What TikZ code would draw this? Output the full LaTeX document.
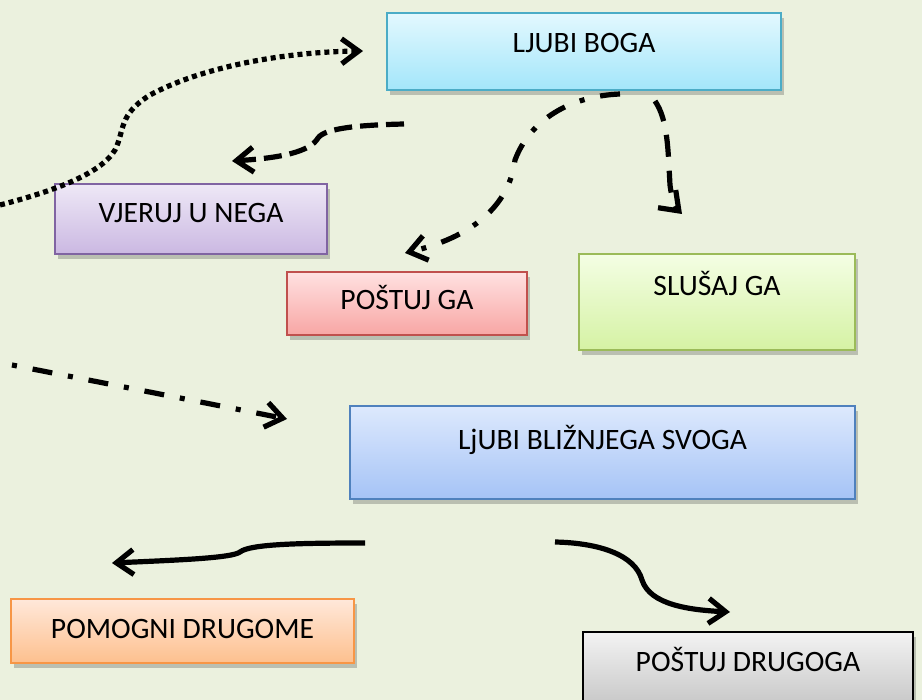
\documentclass[tikz,border=0pt]{standalone}
\usepackage{fontspec}
\setmainfont{Carlito}
\usetikzlibrary{arrows.meta,shadows}
\definecolor{bgc}{HTML}{EBF1DE}
\definecolor{bogT}{HTML}{E3F8FE}\definecolor{bogB}{HTML}{A3E6FA}\definecolor{bogD}{HTML}{4BACC6}
\definecolor{vjeT}{HTML}{EEE8F6}\definecolor{vjeB}{HTML}{CBB8E2}\definecolor{vjeD}{HTML}{8064A2}
\definecolor{posT}{HTML}{FFE1E1}\definecolor{posB}{HTML}{F8A6A4}\definecolor{posD}{HTML}{C0504D}
\definecolor{sluT}{HTML}{F4FEE4}\definecolor{sluB}{HTML}{D5F2A4}\definecolor{sluD}{HTML}{9BBB59}
\definecolor{bliT}{HTML}{DDE9FD}\definecolor{bliB}{HTML}{A5C3F6}\definecolor{bliD}{HTML}{4F81BD}
\definecolor{pomT}{HTML}{FFE8DA}\definecolor{pomB}{HTML}{FDC08E}\definecolor{pomD}{HTML}{F79646}
\definecolor{druT}{HTML}{F3F3F3}\definecolor{druB}{HTML}{BEBEBE}
\begin{document}
\begin{tikzpicture}[x=0.5pt,y=-0.5pt,
  box/.style={rectangle, anchor=north west, inner sep=0pt, line width=1pt,
    font=\fontsize{14.8pt}{17pt}\selectfont,
    drop shadow={shadow xshift=1.5pt, shadow yshift=-2.5pt, opacity=0.3, fill=black!70}},
  conn/.style={line width=2.6pt, -{Straight Barb[length=8.5pt,width=12.5pt]}},
  dotline/.style={dash pattern=on 2.5pt off 2pt},
  dashline/.style={dash pattern=on 9pt off 4pt},
  dashdot/.style={dash pattern=on 10pt off 8pt on 2.5pt off 8pt},
  longdash/.style={dash pattern=on 11pt off 7pt}
]
\useasboundingbox (0,0) rectangle (922,700);
\clip (0,0) rectangle (922,700);
\fill[bgc] (0,0) rectangle (922,700);

\node[box, top color=bogT, bottom color=bogB, draw=bogD,
  minimum width=197pt, minimum height=38.5pt, text height=5.75pt, text depth=4.25pt]
  (bog) at (386,12) {LJUBI BOGA};
\node[box, top color=vjeT, bottom color=vjeB, draw=vjeD,
  minimum width=136pt, minimum height=35pt, text height=7pt, text depth=3pt]
  (vje) at (54,183) {VJERUJ U NEGA};
\node[box, top color=posT, bottom color=posB, draw=posD,
  minimum width=120pt, minimum height=31.5pt, text height=8.25pt, text depth=1.75pt]
  (pos) at (286,271) {POŠTUJ GA};
\node[box, top color=sluT, bottom color=sluB, draw=sluD,
  minimum width=138pt, minimum height=48pt, text height=2pt, text depth=8pt]
  (slu) at (578,253) {SLUŠAJ GA};
\node[box, top color=bliT, bottom color=bliB, draw=bliD,
  minimum width=252.5pt, minimum height=46.5pt, text height=3.75pt, text depth=6.25pt]
  (bli) at (349,405) {LjUBI BLIŽNJEGA SVOGA};
\node[box, top color=pomT, bottom color=pomB, draw=pomD,
  minimum width=171.5pt, minimum height=32pt, text height=8.5pt, text depth=1.5pt]
  (pom) at (10,598) {POMOGNI DRUGOME};
\node[box, top color=druT, bottom color=druB, draw=black,
  minimum width=165pt, minimum height=44.5pt, text height=2.25pt, text depth=7.75pt]
  (dru) at (582,631) {POŠTUJ DRUGOGA};

% free ends of connectors
\coordinate (a1s) at (0,205);
\coordinate (a1e) at (363,51);
\coordinate (a2s) at (404,124);
\coordinate (a2e) at (232,161);
\coordinate (a3s) at (620,94);
\coordinate (a3e) at (405,253);
\coordinate (a4s) at (655,101);
\coordinate (a4e) at (682,214);
\coordinate (a5s) at (12,365);
\coordinate (a5e) at (287,419);
\coordinate (a6s) at (365,543);
\coordinate (a6e) at (112,563);
\coordinate (a7s) at (555,542);
\coordinate (a7e) at (730,612);

\draw[conn, dotline] (a1s) .. controls (50,192) and (100,175) .. (115,150)
  .. controls (125,130) and (118,115) .. (150,95)
  .. controls (200,68) and (280,52) .. (a1e);
\draw[conn, dashline] (a2s) .. controls (360,125) and (325,128) .. (318,138)
  .. controls (310,152) and (280,158) .. (a2e);
\draw[conn, dashdot] (a3s) .. controls (570,96) and (530,120) .. (515,160)
  .. controls (510,200) and (480,235) .. (a3e);
\draw[conn, longdash] (a4s) .. controls (668,120) and (668,150) .. (670,185)
  .. controls (672,200) and (675,207) .. (a4e);
\draw[conn, dashdot, dash phase=18pt] (a5s) -- (a5e);
\draw[conn] (a6s) .. controls (300,543) and (250,544) .. (240,552)
  .. controls (232,558) and (180,560) .. (a6e);
\draw[conn] (a7s) .. controls (600,543) and (635,555) .. (642,580)
  .. controls (650,605) and (690,610) .. (a7e);
\end{tikzpicture}
\end{document}
